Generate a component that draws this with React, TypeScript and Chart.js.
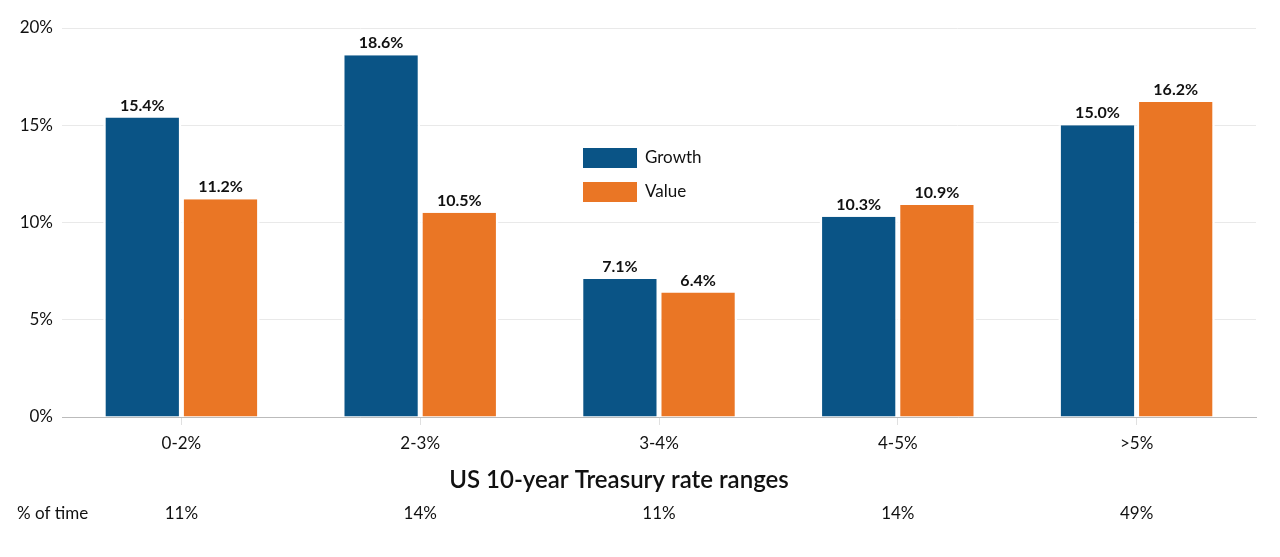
import React, { useEffect, useRef } from "react";
import { Chart, registerables } from "chart.js";

Chart.register(...registerables);

const categories = ["0-2%", "2-3%", "3-4%", "4-5%", ">5%"];
const growth = [15.4, 18.6, 7.1, 10.3, 15.0];
const value = [11.2, 10.5, 6.4, 10.9, 16.2];
const timeShare = ["11%", "14%", "11%", "14%", "49%"];
const timeLabel = "% of time";
const xTitle = "US 10-year Treasury rate ranges";
const seriesNames = ["Growth", "Value"];
const colors = ["#0a5486", "#ea7625"];

const FONT = "Lato, 'Open Sans', sans-serif";

const extrasPlugin = {
  id: "extras",
  afterDatasetsDraw(chart: any) {
    const { ctx } = chart;
    ctx.save();
    // data labels
    ctx.font = `bold 16px ${FONT}`;
    ctx.fillStyle = "#111";
    ctx.textAlign = "center";
    ctx.textBaseline = "bottom";
    chart.data.datasets.forEach((ds: any, di: number) => {
      const meta = chart.getDatasetMeta(di);
      meta.data.forEach((bar: any, i: number) => {
        ctx.fillText(Number(ds.data[i]).toFixed(1) + "%", bar.x, bar.y - 4);
      });
    });
    // legend
    const lx = 575;
    const ly = 140;
    chart.data.datasets.forEach((ds: any, di: number) => {
      const y = ly + di * 34;
      ctx.fillStyle = ds.backgroundColor;
      ctx.fillRect(lx, y, 54, 20);
      ctx.fillStyle = "#111";
      ctx.font = `17px ${FONT}`;
      ctx.textAlign = "left";
      ctx.textBaseline = "middle";
      ctx.fillText(ds.label, lx + 62, y + 10);
    });
    // title
    ctx.font = `600 24px ${FONT}`;
    ctx.fillStyle = "#111";
    ctx.textAlign = "center";
    ctx.textBaseline = "middle";
    ctx.fillText(xTitle, 611, 472);
    // % of time row
    const xs = chart.scales.x;
    ctx.font = `17px ${FONT}`;
    ctx.textAlign = "left";
    ctx.fillText(timeLabel, 9, 506);
    ctx.textAlign = "center";
    timeShare.forEach((t, i) => {
      ctx.fillText(t, xs.getPixelForValue(i), 506);
    });
    ctx.restore();
  },
};

export default function App() {
  const ref = useRef<HTMLCanvasElement>(null);
  useEffect(() => {
    if (!ref.current) return;
    const chart = new Chart(ref.current, {
      type: "bar",
      data: {
        labels: categories,
        datasets: [
          {
            label: seriesNames[0],
            data: growth,
            backgroundColor: colors[0],
            borderColor: "#ffffff",
            borderWidth: { left: 2.5, right: 2.5, top: 0, bottom: 0 },
            borderSkipped: false,
          },
          {
            label: seriesNames[1],
            data: value,
            backgroundColor: colors[1],
            borderColor: "#ffffff",
            borderWidth: { left: 2.5, right: 2.5, top: 0, bottom: 0 },
            borderSkipped: false,
          },
        ],
      },
      options: {
        animation: false,
        responsive: false,
        maintainAspectRatio: false,
        layout: { padding: { left: 0, top: 20, right: 16, bottom: 0 } },
        datasets: {
          bar: { barPercentage: 1, categoryPercentage: 0.655 },
        },
        plugins: {
          legend: { display: false },
          tooltip: { enabled: false },
        },
        scales: {
          x: {
            afterFit(scale: any) {
              scale.height = 132;
            },
            grid: {
              display: true,
              drawOnChartArea: false,
              drawTicks: true,
              tickLength: 8,
              offset: false,
              color: "#e0e0e0",
            },
            border: { display: true, color: "#bbbbbb", width: 1 },
            ticks: {
              color: "#111",
              font: { family: FONT, size: 17 },
              padding: 8,
            },
          },
          y: {
            min: 0,
            max: 20,
            afterFit(scale: any) {
              scale.width = 54;
            },
            grid: { color: "#e9e9e9", drawTicks: false },
            border: { display: false },
            ticks: {
              stepSize: 5,
              color: "#111",
              padding: 9,
              font: { family: FONT, size: 17 },
              callback: (v: any) => v + "%",
            },
          },
        },
      },
      plugins: [extrasPlugin],
    });
    return () => chart.destroy();
  }, []);
  return (
    <div style={{ width: 1264, height: 541 }}>
      <canvas ref={ref} width={1264} height={541} style={{ width: 1264, height: 541 }} />
    </div>
  );
}
